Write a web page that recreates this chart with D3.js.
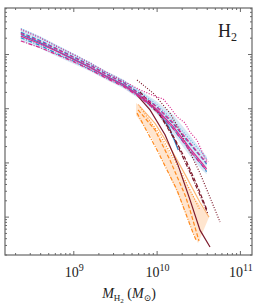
<!DOCTYPE html>
<html>
<head>
<meta charset="utf-8">
<script src="https://cdn.jsdelivr.net/npm/d3@7"></script>
<style>
  body { margin: 0; background: #fff; }
  text { font-family: "Liberation Serif", "DejaVu Serif", serif; fill: #222; }
</style>
</head>
<body>
<svg id="chart" width="263" height="305"></svg>
<script>
// all masses are log10(M_H2 / Msun), all densities log10(phi)
var bundleM     = [8.37, 8.6, 8.8, 9.0, 9.2, 9.4, 9.6, 9.8, 10.0, 10.2, 10.4, 10.55, 10.6];
var blueBandHi  = [-0.52, -0.67, -0.83, -0.99, -1.15, -1.32, -1.47, -1.67, -1.87, -2.12, -2.50, -2.80, -2.88];
var blueBandLo  = [-0.76, -0.90, -1.04, -1.18, -1.32, -1.48, -1.63, -1.84, -2.10, -2.47, -2.88, -3.15, -3.22];
var blueDotted  = [-0.53, -0.69, -0.85, -1.00, -1.16, -1.34, -1.49, -1.70, -1.93, -2.23, -2.58, -2.83, -2.93];
var blueDashed  = [-0.60, -0.75, -0.90, -1.05, -1.20, -1.37, -1.52, -1.73, -1.97, -2.29, -2.66, -2.93, -3.03];
var blueDashDot = [-0.70, -0.84, -0.99, -1.13, -1.28, -1.44, -1.59, -1.79, -2.04, -2.38, -2.78, -3.06, -3.17];
var blueSolidM  = [8.37, 8.6, 8.8, 9.0, 9.2, 9.4, 9.6, 9.8, 10.0, 10.15, 10.26];
var blueSolid   = [-0.64, -0.79, -0.94, -1.09, -1.24, -1.41, -1.56, -1.77, -2.03, -2.35, -2.77];
var magSolid    = [-0.67, -0.81, -0.95, -1.10, -1.25, -1.42, -1.57, -1.78, -2.02, -2.34, -2.74, -3.02, -3.12];
var magDashed   = [-0.62, -0.77, -0.91, -1.06, -1.21, -1.38, -1.53, -1.74, -1.97, -2.27, -2.64, -2.92, -3.00];
var magDashDot  = [-0.76, -0.88, -1.01, -1.14, -1.29, -1.45, -1.60, -1.80, -2.05, -2.38, -2.79, -3.06, -3.15];
var magDottedM  = [8.37, 8.6, 8.8, 9.0, 9.2, 9.4, 9.6, 9.8, 10.0, 10.08, 10.16, 10.245, 10.34, 10.40, 10.485, 10.58, 10.62];
var magDotted   = [-0.55, -0.70, -0.86, -1.01, -1.17, -1.34, -1.50, -1.66, -1.79, -1.83, -1.98, -2.16, -2.27, -2.44, -2.59, -2.92, -2.99];

var drSolidM    = [9.765, 9.921, 10.101, 10.257, 10.401, 10.521, 10.641];
var drSolid     = [-1.76, -2.03, -2.49, -3.05, -3.69, -4.25, -4.56];
var drDashedM   = [9.80, 9.98, 10.16, 10.34, 10.485, 10.605];
var drDashed    = [-1.70, -2.00, -2.40, -2.92, -3.42, -3.88];
var drDashDotM  = [9.825, 10.04, 10.22, 10.40, 10.52, 10.617];
var drDashDot   = [-1.79, -2.13, -2.59, -3.18, -3.60, -3.95];
var drDottedM   = [9.765, 9.957, 10.161, 10.281, 10.401, 10.521, 10.605, 10.761];
var drDotted    = [-1.48, -1.72, -2.09, -2.42, -2.81, -3.20, -3.51, -4.10];

var orBandHiM   = [9.753, 9.921, 10.101, 10.281, 10.461, 10.629];
var orBandHi    = [-1.90, -2.22, -2.68, -3.18, -3.66, -4.01];
var orBandLoM   = [9.753, 9.921, 10.101, 10.281, 10.401, 10.497];
var orBandLo    = [-2.13, -2.49, -3.05, -3.69, -4.16, -4.49];
var orDashDotM  = [9.765, 10.005, 10.245, 10.437, 10.473];
var orDashDot   = [-2.09, -2.77, -3.51, -4.30, -4.43];
var orDashedM   = [9.777, 9.981, 10.161, 10.341, 10.401, 10.509];
var orDashed    = [-2.03, -2.40, -2.96, -3.60, -3.88, -4.45];
var orDottedM   = [9.801, 10.041, 10.281, 10.521];
var orDotted    = [-1.98, -2.49, -3.14, -3.88];
var orSolidM    = [9.777, 9.981, 10.161, 10.341, 10.521, 10.629];
var orSolid     = [-1.93, -2.28, -2.72, -3.22, -3.74, -4.01];

var xMajor = [9, 10, 11];
var yMajor = [-1, -2, -3, -4];

var svg = d3.select("#chart");
var pL = 5, pR = 252, pT = 8, pB = 255;

var x = d3.scaleLog().domain([Math.pow(10, 8.18), Math.pow(10, 11.145)]).range([pL, pR]);
var y = d3.scaleLog().domain([Math.pow(10, -4.708), Math.pow(10, -0.151)]).range([pB, pT]);

function pts(ms, ps) {
  return ms.map(function(m, i) { return [Math.pow(10, m), Math.pow(10, ps[i])]; });
}
var line = d3.line().x(function(d) { return x(d[0]); }).y(function(d) { return y(d[1]); });

function band(mh, ph, ml, pl) {
  return line(pts(mh, ph).concat(pts(ml, pl).reverse())) + "Z";
}

var plot = svg.append("g");
plot.append("path").attr("d", band(bundleM, blueBandHi, bundleM, blueBandLo))
  .attr("fill", "#9cc6e6").attr("fill-opacity", 0.4);
plot.append("path").attr("d", band(orBandHiM, orBandHi, orBandLoM, orBandLo))
  .attr("fill", "#ffcfa6").attr("fill-opacity", 0.55);

var BLUE = "#2f86c8", LBLUE = "#6fb0e0", MAG = "#d92a8e", DRED = "#7d1a2c", ORG = "#ff8a1e", LORG = "#fdb877";
var DASH = "4,2", DOT = "1,1.6", DASHDOT = "4,1.5,1,1.5";

var series = [
  {m: orSolidM, p: orSolid, c: LORG, d: null},
  {m: orDottedM, p: orDotted, c: ORG, d: DOT},
  {m: orDashedM, p: orDashed, c: ORG, d: DASH},
  {m: orDashDotM, p: orDashDot, c: ORG, d: DASHDOT},
  {m: bundleM, p: blueDotted, c: LBLUE, d: DOT},
  {m: bundleM, p: blueDashed, c: BLUE, d: DASH},
  {m: bundleM, p: blueDashDot, c: BLUE, d: DASHDOT},
  {m: blueSolidM, p: blueSolid, c: BLUE, d: null},
  {m: drDottedM, p: drDotted, c: DRED, d: DOT},
  {m: drDashedM, p: drDashed, c: DRED, d: DASH},
  {m: drDashDotM, p: drDashDot, c: DRED, d: DASHDOT},
  {m: drSolidM, p: drSolid, c: DRED, d: null},
  {m: magDottedM, p: magDotted, c: MAG, d: DOT},
  {m: bundleM, p: magDashed, c: MAG, d: DASH},
  {m: bundleM, p: magDashDot, c: MAG, d: DASHDOT},
  {m: bundleM, p: magSolid, c: MAG, d: null}
];

plot.selectAll(".curve").data(series).enter().append("path")
  .attr("class", "curve")
  .attr("d", function(s) { return line(pts(s.m, s.p)); })
  .attr("fill", "none")
  .attr("stroke", function(s) { return s.c; })
  .attr("stroke-width", 1.2)
  .attr("stroke-dasharray", function(s) { return s.d; });

// minor tick positions
var xMinor = [], yMinor = [];
[8, 9, 10, 11].forEach(function(e) {
  for (var k = 2; k <= 9; k++) {
    var v = k * Math.pow(10, e);
    if (v > x.domain()[0] && v < x.domain()[1]) xMinor.push(v);
  }
});
[-5, -4, -3, -2, -1].forEach(function(e) {
  for (var k = 2; k <= 9; k++) {
    var v = k * Math.pow(10, e);
    if (v > y.domain()[0] && v < y.domain()[1]) yMinor.push(v);
  }
});
var xMaj = xMajor.map(function(e) { return Math.pow(10, e); });
var yMaj = yMajor.map(function(e) { return Math.pow(10, e); });

function axisSet(axisFn, scale, tr, vals, len) {
  svg.append("g").attr("transform", tr)
    .call(axisFn(scale).tickValues(vals).tickSize(-len).tickFormat(""))
    .call(function(g) {
      g.select(".domain").remove();
      g.selectAll("line").attr("stroke", "#444").attr("stroke-width", 0.8);
    });
}
axisSet(d3.axisBottom, x, "translate(0," + pB + ")", xMaj, 4);
axisSet(d3.axisBottom, x, "translate(0," + pB + ")", xMinor, 2);
axisSet(d3.axisTop, x, "translate(0," + pT + ")", xMaj, 4);
axisSet(d3.axisTop, x, "translate(0," + pT + ")", xMinor, 2);
axisSet(d3.axisLeft, y, "translate(" + pL + ",0)", yMaj, 4);
axisSet(d3.axisLeft, y, "translate(" + pL + ",0)", yMinor, 2);
axisSet(d3.axisRight, y, "translate(" + pR + ",0)", yMaj, 4);
axisSet(d3.axisRight, y, "translate(" + pR + ",0)", yMinor, 2);

svg.append("rect").attr("x", pL).attr("y", pT)
  .attr("width", pR - pL).attr("height", pB - pT)
  .attr("fill", "none").attr("stroke", "#666").attr("stroke-width", 1.2);

// tick labels
var lab = svg.selectAll(".xlab").data(xMajor).enter().append("text")
  .attr("class", "xlab")
  .attr("x", function(e) { return x(Math.pow(10, e)) + 1; })
  .attr("y", 277)
  .attr("text-anchor", "middle")
  .style("font-size", "14px");
lab.append("tspan").text("10");
lab.append("tspan").attr("dy", -6).style("font-size", "10px").text(function(e) { return e; });

var t = svg.append("text").attr("x", 129).attr("y", 298).attr("text-anchor", "middle").style("font-size", "14px");
t.append("tspan").style("font-style", "italic").text("M");
t.append("tspan").attr("dy", 3).style("font-size", "9px").text("H");
t.append("tspan").style("font-size", "7px").attr("dy", 1.5).text("2");
t.append("tspan").attr("dy", -4.5).text(" (");
t.append("tspan").style("font-style", "italic").text("M");
t.append("tspan").attr("dy", 3).style("font-size", "9px").text("\u2299");
t.append("tspan").attr("dy", -3).text(")");

var h = svg.append("text").attr("x", 218).attr("y", 37).style("font-size", "18px");
h.append("tspan").text("H");
h.append("tspan").attr("dy", 4).style("font-size", "12px").text("2");
</script>
</body>
</html>
